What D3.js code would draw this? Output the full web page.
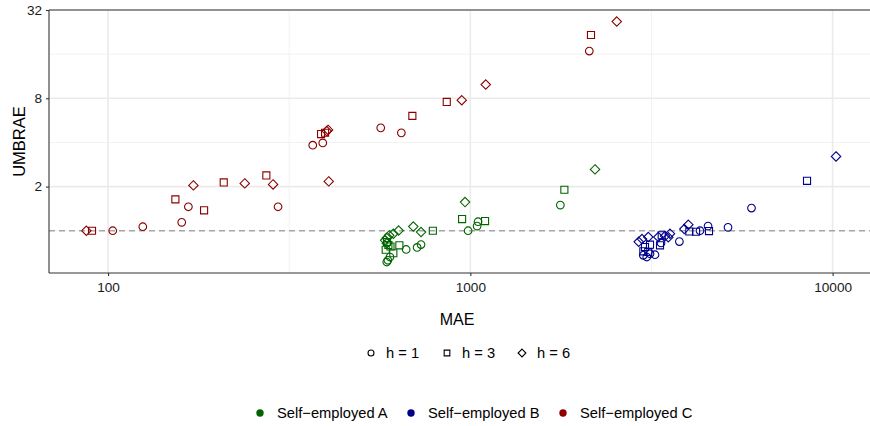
<!DOCTYPE html>
<html>
<head>
<meta charset="utf-8">
<script src="https://cdn.jsdelivr.net/npm/d3@7"></script>
<style>
  body { margin: 0; background: #ffffff; }
  svg { display: block; font-family: "Liberation Sans", Arial, sans-serif; }
</style>
</head>
<body>
<svg id="chart" width="870" height="426"></svg>
<script>
// Forecast accuracy by series and horizon: MAE vs UMBRAE (both log scaled)
const seriesNames = ["Self\u2212employed A", "Self\u2212employed B", "Self\u2212employed C"];
const seriesColors = ["#006400", "#00008B", "#8B0000"];
const horizons = ["h = 1", "h = 3", "h = 6"];

// Self-employed A
const maeA_h1 = [588, 592, 600, 665, 713, 731, 986, 1044, 1050, 1772];
const umbA_h1 = [0.612, 0.629, 0.662, 0.745, 0.769, 0.805, 1.0, 1.076, 1.152, 1.496];
const maeA_h3 = [584, 594, 602, 613, 637, 589, 788, 949, 1098, 1818];
const umbA_h3 = [0.742, 0.799, 0.781, 0.702, 0.795, 0.838, 1.0, 1.201, 1.164, 1.902];
const maeA_h6 = [582, 588, 597, 613, 634, 696, 731, 588, 967, 2209];
const umbA_h6 = [0.860, 0.892, 0.930, 0.954, 1.003, 1.068, 0.980, 0.821, 1.568, 2.62];

// Self-employed B
const maeB_h1 = [3003, 3069, 3133, 3234, 3360, 3776, 4305, 4531, 5144, 5972];
const umbB_h1 = [0.680, 0.662, 0.697, 0.686, 0.825, 0.844, 1.0, 1.076, 1.055, 1.428];
const maeB_h3 = [3003, 3035, 3099, 3133, 3339, 3375, 4023, 4198, 4559, 8500];
const umbB_h3 = [0.724, 0.774, 0.716, 0.803, 0.795, 0.930, 0.988, 0.984, 0.995, 2.19];
const maeB_h6 = [2916, 2978, 3099, 3303, 3447, 3558, 3519, 3897, 3997, 10220];
const umbB_h6 = [0.841, 0.878, 0.906, 0.906, 0.920, 0.954, 0.902, 1.027, 1.099, 3.21];

// Self-employed C
const maeC_h1 = [103, 124.7, 159.7, 166.6, 294.6, 367.3, 391.4, 565.8, 645, 2130];
const umbC_h1 = [1.0, 1.065, 1.141, 1.457, 1.457, 3.83, 3.97, 5.03, 4.65, 16.8];
const maeC_h3 = [90.3, 153.4, 184.1, 208.6, 273.5, 387.2, 397.2, 691.8, 860.8, 2153];
const umbC_h3 = [1.0, 1.636, 1.377, 2.136, 2.384, 4.56, 4.66, 6.07, 7.56, 21.6];
const maeC_h6 = [87.1, 172.0, 238.4, 285.4, 406.6, 401.5, 404.8, 947, 1103, 2536];
const umbC_h6 = [1.0, 2.038, 2.103, 2.07, 2.17, 4.78, 4.87, 7.76, 9.93, 26.7];

const xTicks = [100, 1000, 10000];
const xMinor = [316.23, 3162.3];
const yTicks = [2, 8, 32];
const yMinor = [1, 4, 16];
const xDomain = [68.7, 12365];
const yDomain = [0.515, 32];
const refLine = 1;

const groups = [
  { s: 0, h: 0, mae: maeA_h1, umb: umbA_h1 },
  { s: 0, h: 1, mae: maeA_h3, umb: umbA_h3 },
  { s: 0, h: 2, mae: maeA_h6, umb: umbA_h6 },
  { s: 1, h: 0, mae: maeB_h1, umb: umbB_h1 },
  { s: 1, h: 1, mae: maeB_h3, umb: umbB_h3 },
  { s: 1, h: 2, mae: maeB_h6, umb: umbB_h6 },
  { s: 2, h: 0, mae: maeC_h1, umb: umbC_h1 },
  { s: 2, h: 1, mae: maeC_h3, umb: umbC_h3 },
  { s: 2, h: 2, mae: maeC_h6, umb: umbC_h6 }
];
const points = [];
groups.forEach(g => g.mae.forEach((m, i) => points.push({ s: g.s, h: g.h, mae: m, umb: g.umb[i] })));

const svg = d3.select("#chart");
const panel = { left: 49, right: 866, top: 10, bottom: 273 };

const x = d3.scaleLog().domain(xDomain).range([panel.left, panel.right]);
const y = d3.scaleLog().base(2).domain(yDomain).range([panel.bottom, panel.top]);

// grid
const grid = svg.append("g");
grid.selectAll(".gxm").data(xMinor).join("line")
  .attr("x1", d => x(d)).attr("x2", d => x(d))
  .attr("y1", panel.top).attr("y2", panel.bottom)
  .attr("stroke", "#f2f2f2").attr("stroke-width", 1);
grid.selectAll(".gym").data(yMinor).join("line")
  .attr("y1", d => y(d)).attr("y2", d => y(d))
  .attr("x1", panel.left).attr("x2", 870)
  .attr("stroke", "#f2f2f2").attr("stroke-width", 1);
grid.selectAll(".gx").data(xTicks).join("line")
  .attr("x1", d => x(d)).attr("x2", d => x(d))
  .attr("y1", panel.top).attr("y2", panel.bottom)
  .attr("stroke", "#ebebeb").attr("stroke-width", 1.6);
grid.selectAll(".gy").data(yTicks).join("line")
  .attr("y1", d => y(d)).attr("y2", d => y(d))
  .attr("x1", panel.left).attr("x2", 870)
  .attr("stroke", "#ebebeb").attr("stroke-width", 1.6);

// reference line at UMBRAE = 1
svg.append("line")
  .attr("x1", panel.left).attr("x2", 870)
  .attr("y1", y(refLine)).attr("y2", y(refLine))
  .attr("stroke", "#a6a6a6").attr("stroke-width", 1.3)
  .attr("stroke-dasharray", "6,4");

// markers
const symCircle = d3.symbol().type(d3.symbolCircle).size(46);
const symSquare = d3.symbol().type(d3.symbolSquare).size(50);
const diamond = r => `M0,${-r}L${r},0L0,${r}L${-r},0Z`;
const shapeFor = h => h === 0 ? symCircle() : h === 1 ? symSquare() : diamond(4.7);

svg.append("g").selectAll("path").data(points).join("path")
  .attr("transform", d => `translate(${x(d.mae)},${y(d.umb)})`)
  .attr("d", d => shapeFor(d.h))
  .attr("fill", "none")
  .attr("stroke", d => seriesColors[d.s])
  .attr("stroke-width", 1.1);

// axes
const xAxis = svg.append("g").attr("transform", `translate(0,${panel.bottom})`)
  .call(d3.axisBottom(x).tickValues(xTicks).tickFormat(d3.format("d")).tickSize(3).tickPadding(6));
const yAxis = svg.append("g").attr("transform", `translate(${panel.left},0)`)
  .call(d3.axisLeft(y).tickValues(yTicks).tickFormat(d3.format("d")).tickSize(3).tickPadding(4));
[xAxis, yAxis].forEach(a => {
  a.select(".domain").remove();
  a.selectAll(".tick line").attr("stroke", "#333333").attr("stroke-width", 1.1);
  a.selectAll(".tick text").attr("fill", "#1a1a1a").style("font-size", "13.6px")
    .style("font-family", "'Liberation Sans', Arial, sans-serif");
});

// axis lines: left, bottom and top
const axisLines = [
  [panel.left, panel.top, panel.left, panel.bottom],
  [panel.left, panel.bottom, 870, panel.bottom],
  [panel.left, panel.top, 870, panel.top]
];
svg.append("g").selectAll("line").data(axisLines).join("line")
  .attr("x1", d => d[0]).attr("y1", d => d[1]).attr("x2", d => d[2]).attr("y2", d => d[3])
  .attr("stroke", "#333333").attr("stroke-width", 1.1);

// axis titles
svg.append("text").attr("x", 457).attr("y", 325)
  .attr("text-anchor", "middle").style("font-size", "16px").attr("fill", "#000")
  .text("MAE");
svg.append("text")
  .attr("transform", `translate(25,${(panel.top + panel.bottom) / 2}) rotate(-90)`)
  .attr("text-anchor", "middle").style("font-size", "16.5px").attr("fill", "#000")
  .text("UMBRAE");

// shape legend
const shapeLegendX = [371, 447, 522];
const shapeLegend = svg.append("g");
horizons.forEach((lab, i) => {
  shapeLegend.append("path")
    .attr("transform", `translate(${shapeLegendX[i]},353)`)
    .attr("d", i === 0 ? d3.symbol().type(d3.symbolCircle).size(28)() :
               i === 1 ? d3.symbol().type(d3.symbolSquare).size(32)() : diamond(3.9))
    .attr("fill", "none").attr("stroke", "#000").attr("stroke-width", 1.1);
  shapeLegend.append("text").attr("x", shapeLegendX[i] + 15).attr("y", 358)
    .style("font-size", "14.7px").attr("fill", "#000").text(lab);
});

// colour legend
const colorLegendX = [260, 411, 563];
const colorLegend = svg.append("g");
seriesNames.forEach((lab, i) => {
  colorLegend.append("circle").attr("cx", colorLegendX[i]).attr("cy", 413).attr("r", 3.7)
    .attr("fill", seriesColors[i]);
  colorLegend.append("text").attr("x", colorLegendX[i] + 17).attr("y", 418)
    .style("font-size", "14.7px").attr("fill", "#000").text(lab);
});
</script>
</body>
</html>
